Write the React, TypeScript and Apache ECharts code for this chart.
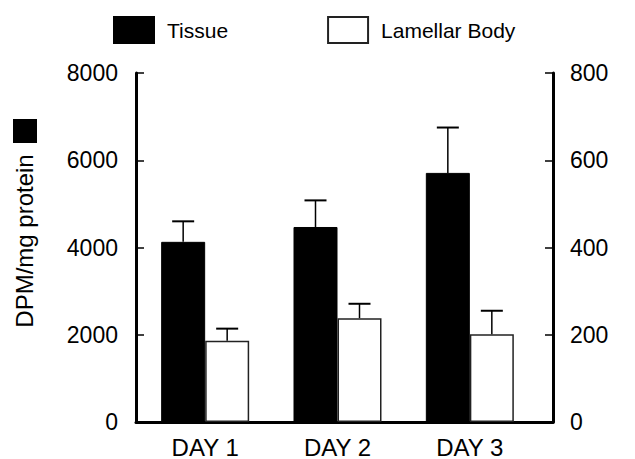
import React, { useEffect, useRef } from "react";
import * as echarts from "echarts";

const categories = ["DAY 1", "DAY 2", "DAY 3"];
const tissue = [4130, 4470, 5710];
const tissueErrTop = [4600, 5080, 6750];
const lamellar = [186, 238, 201];
const lamellarErrTop = [214, 271, 255];
const leftTicks = { min: 0, max: 8000, interval: 2000 };
const rightTicks = { min: 0, max: 800, interval: 200 };
const seriesNames = ["Tissue", "Lamellar Body"];
const yName = "DPM/mg protein";

const FONT = "Liberation Sans, Arial, Helvetica, sans-serif";

function errorSeries(name: string, vals: number[], tops: number[], yAxisIndex: number, dir: number) {
  return {
    type: "custom",
    name: name + " err",
    xAxisIndex: 1,
    yAxisIndex,
    z: 5,
    silent: true,
    data: vals.map((v, i) => [i, v, tops[i]]),
    renderItem: (params: any, api: any) => {
      const i = api.value(0);
      const base = api.coord([i, api.value(1)]);
      const top = api.coord([i, api.value(2)]);
      const x = base[0] + dir * 22;
      const cap = 11;
      return {
        type: "group",
        children: [
          { type: "line", shape: { x1: x, y1: base[1], x2: x, y2: top[1] }, style: { stroke: "#000", lineWidth: 1.5 } },
          { type: "line", shape: { x1: x - cap, y1: top[1], x2: x + cap, y2: top[1] }, style: { stroke: "#000", lineWidth: 2 } },
        ],
      };
    },
  };
}

export default function App() {
  const ref = useRef<HTMLDivElement>(null);
  useEffect(() => {
    if (!ref.current) return;
    const chart = echarts.init(ref.current, null, { renderer: "svg" });
    const labelStyle = { color: "#000", fontSize: 23, fontFamily: FONT };
    chart.setOption({
      animation: false,
      backgroundColor: "#fff",
      legend: {
        data: seriesNames,
        left: 113,
        top: 16,
        padding: 0,
        itemWidth: 40,
        itemHeight: 26,
        itemGap: 99,
        icon: "rect",
        textStyle: { color: "#000", fontSize: 21, fontFamily: FONT, padding: [6, 0, 0, 8] },
      },
      grid: [
        { left: 136, right: 82, top: 73, bottom: 37 },
        { left: 139, right: 99, top: 73, bottom: 37 },
      ],
      xAxis: [
        {
          type: "value",
          gridIndex: 0,
          min: 0,
          max: 1,
          axisLine: { show: true, lineStyle: { color: "#000", width: 3 } },
          axisTick: { show: false },
          axisLabel: { show: false },
          splitLine: { show: false },
        },
        {
          type: "category",
          gridIndex: 1,
          data: categories,
          axisLine: { show: false },
          axisTick: { show: false },
          axisLabel: { color: "#000", fontFamily: FONT, fontSize: 24, margin: 13 },
          splitLine: { show: false },
        },
      ],
      yAxis: [
        {
          type: "value",
          gridIndex: 0,
          position: "left",
          ...leftTicks,
          axisLine: { show: true, lineStyle: { color: "#000", width: 3 } },
          axisTick: { show: true, inside: true, length: 8, lineStyle: { color: "#000", width: 1.5 } },
          axisLabel: { ...labelStyle, margin: 18, padding: [8, 0, 0, 0], formatter: (v: number) => String(v) },
          splitLine: { show: false },
        },
        {
          type: "value",
          gridIndex: 0,
          position: "right",
          ...rightTicks,
          axisLine: { show: true, lineStyle: { color: "#000", width: 3 } },
          axisTick: { show: true, inside: true, length: 8, lineStyle: { color: "#000", width: 1.5 } },
          axisLabel: { ...labelStyle, margin: 17, formatter: (v: number) => String(v) },
          splitLine: { show: false },
        },
        { type: "value", gridIndex: 1, ...leftTicks, show: false },
        { type: "value", gridIndex: 1, ...rightTicks, show: false },
      ],
      graphic: [
        { type: "rect", left: 13, top: 119, shape: { width: 24, height: 24 }, style: { fill: "#000" } },
        {
          type: "text",
          x: 24,
          y: 241,
          rotation: Math.PI / 2,
          style: { text: yName, fill: "#000", fontSize: 24, fontFamily: FONT, align: "center", verticalAlign: "middle" },
        },
      ],
      series: [
        {
          type: "bar",
          name: seriesNames[0],
          xAxisIndex: 1,
          yAxisIndex: 2,
          data: tissue,
          barWidth: 44,
          barGap: "0%",
          itemStyle: { color: "#000", borderColor: "#000", borderWidth: 1 },
        },
        {
          type: "bar",
          name: seriesNames[1],
          xAxisIndex: 1,
          yAxisIndex: 3,
          data: lamellar,
          barWidth: 44,
          barGap: "0%",
          itemStyle: { color: "#fff", borderColor: "#222", borderWidth: 1.5 },
        },
        errorSeries(seriesNames[0], tissue, tissueErrTop, 2, -1),
        errorSeries(seriesNames[1], lamellar, lamellarErrTop, 3, 1),
      ],
    });
    return () => chart.dispose();
  }, []);
  return <div ref={ref} style={{ position: "fixed", left: 0, top: 0, width: 635, height: 459 }} />;
}
